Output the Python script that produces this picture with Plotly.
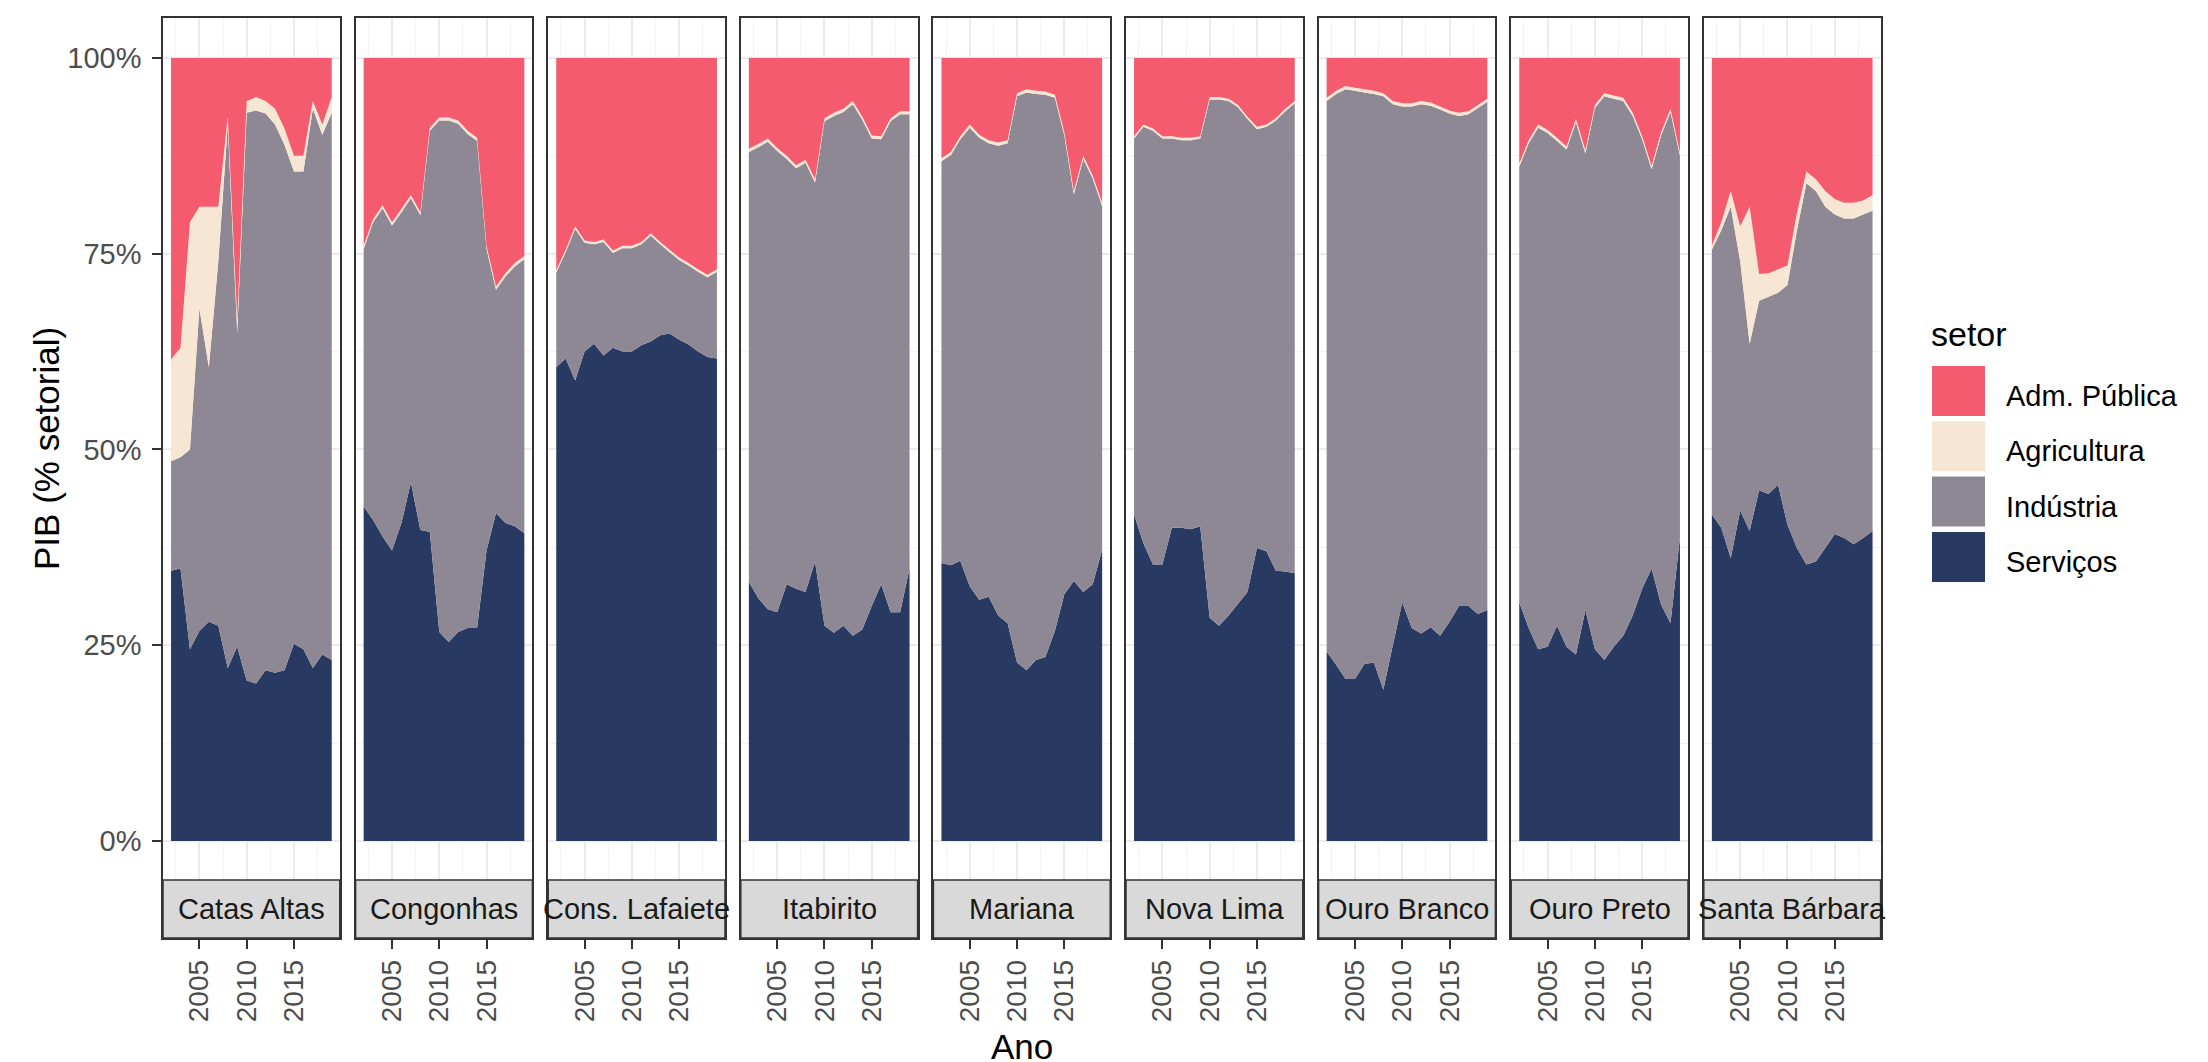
import plotly.graph_objects as go

#%% data - PIB setorial share (%) per municipality, 2002-2019
anos = list(range(2002, 2020))
municipios = ["Catas Altas", "Congonhas", "Cons. Lafaiete", "Itabirito", "Mariana",
              "Nova Lima", "Ouro Branco", "Ouro Preto", "Santa Bárbara"]
setores = ["Serviços", "Indústria", "Agricultura", "Adm. Pública"]
cores = {"Adm. Pública": "#F45B6E", "Agricultura": "#F7E6D3",
         "Indústria": "#8E8895", "Serviços": "#283A62"}

catas_serv = [34.5, 34.8, 24.5, 26.8, 28, 27.5, 22.1, 24.8, 20.5, 20.1, 21.8, 21.5, 21.8, 25.2, 24.5, 22.1, 23.8, 23.1]
catas_ind = [14.0, 14.2, 25.5, 41.2, 32.5, 46.5, 69.4, 40.2, 72.5, 73.2, 71.1, 70.0, 67.1, 60.3, 61.0, 71.4, 66.4, 69.9]
catas_agri = [13, 14, 29, 13, 20.5, 7, 1, 1.5, 1.5, 1.7, 1.6, 2, 2.1, 2, 2, 1, 1.3, 2]
catas_adm = [38.5, 37, 21, 19, 19, 19, 7.5, 33.5, 5.5, 5, 5.5, 6.5, 9, 12.5, 12.5, 5.5, 8.5, 5]

cong_serv = [42.7, 41, 38.9, 37.1, 40.6, 45.8, 39.7, 39.5, 26.7, 25.4, 26.7, 27.2, 27.2, 37.1, 41.9, 40.6, 40.2, 39.3]
cong_ind = [32.9, 38, 41.9, 41.5, 39.7, 36.3, 40.2, 51.2, 65.3, 66.6, 64.9, 63.1, 62.2, 38.5, 28.5, 31.5, 33.2, 35]
cong_agri = [0.4, 0.4, 0.4, 0.4, 0.4, 0.4, 0.4, 0.4, 0.4, 0.4, 0.4, 0.4, 0.4, 0.4, 0.4, 0.4, 0.4, 0.4]
cong_adm = [24, 20.6, 18.8, 21, 19.3, 17.5, 19.7, 8.9, 7.6, 7.6, 8, 9.3, 10.2, 24, 29.2, 27.5, 26.2, 25.3]

laf_serv = [60.5, 61.6, 58.8, 62.5, 63.5, 62, 63, 62.5, 62.5, 63.3, 63.8, 64.6, 64.8, 64, 63.4, 62.5, 61.8, 61.6]
laf_ind = [12.1, 13.6, 19.4, 13.9, 12.7, 14.5, 12.1, 13.2, 13.2, 12.9, 13.5, 11.6, 10.4, 10.2, 10.1, 10.2, 10.2, 11.1]
laf_agri = [0.3, 0.3, 0.3, 0.3, 0.3, 0.3, 0.3, 0.3, 0.3, 0.3, 0.3, 0.3, 0.3, 0.3, 0.3, 0.3, 0.3, 0.3]
laf_adm = [27.1, 24.5, 21.5, 23.3, 23.5, 23.2, 24.6, 24, 24, 23.5, 22.4, 23.5, 24.5, 25.5, 26.2, 27, 27.7, 27]

itab_serv = [33.1, 31, 29.6, 29.2, 32.8, 32.2, 31.8, 35.7, 27.5, 26.6, 27.5, 26.2, 27, 30, 32.8, 29.2, 29.2, 34.8]
itab_ind = [54.9, 57.6, 59.7, 58.9, 54.3, 53.7, 54.8, 48.4, 64.4, 66, 65.6, 67.9, 65.1, 59.7, 56.8, 62.7, 63.6, 58]
itab_agri = [0.4, 0.4, 0.4, 0.4, 0.4, 0.4, 0.4, 0.4, 0.4, 0.4, 0.4, 0.4, 0.4, 0.4, 0.4, 0.4, 0.4, 0.4]
itab_adm = [11.6, 11, 10.3, 11.5, 12.5, 13.7, 13, 15.5, 7.7, 7, 6.5, 5.5, 7.5, 9.9, 10, 7.7, 6.8, 6.8]

mar_serv = [35.5, 35.2, 35.8, 32.5, 30.8, 31.2, 28.8, 27.8, 22.8, 21.8, 23.1, 23.5, 26.8, 31.5, 33.2, 31.8, 32.8, 37.2]
mar_ind = [51.3, 52.4, 53.8, 58.6, 59, 57.9, 60, 61.3, 72.3, 73.8, 72.3, 71.8, 68.1, 58.6, 49.4, 55.3, 51.8, 43.9]
mar_agri = [0.4, 0.4, 0.4, 0.4, 0.4, 0.4, 0.4, 0.4, 0.4, 0.4, 0.4, 0.4, 0.4, 0.4, 0.4, 0.4, 0.4, 0.4]
mar_adm = [12.8, 12, 10, 8.5, 9.8, 10.5, 10.8, 10.5, 4.5, 4, 4.2, 4.3, 4.7, 9.5, 17, 12.5, 15, 18.5]

nova_serv = [41.7, 38, 35.3, 35.3, 40, 40, 39.8, 40.2, 28.5, 27.5, 28.8, 30.3, 31.8, 37.4, 37, 34.5, 34.4, 34.2]
nova_ind = [48.0, 53.2, 55.4, 54.4, 49.7, 49.5, 49.7, 49.5, 66.2, 67.2, 65.7, 63.4, 60.4, 53.5, 54.2, 57.5, 58.8, 60]
nova_agri = [0.3, 0.3, 0.3, 0.3, 0.3, 0.3, 0.3, 0.3, 0.3, 0.3, 0.3, 0.3, 0.3, 0.3, 0.3, 0.3, 0.3, 0.3]
nova_adm = [10, 8.5, 9, 10, 10, 10.2, 10.2, 10, 5, 5, 5.2, 6, 7.5, 8.8, 8.5, 7.7, 6.5, 5.5]

obranco_serv = [24.2, 22.5, 20.7, 20.7, 22.6, 22.8, 19.3, 25, 30.5, 27.2, 26.5, 27.3, 26.2, 28, 30, 30, 29, 29.5]
obranco_ind = [70.3, 72.9, 75.3, 75.1, 73, 72.6, 75.8, 69.1, 63.3, 66.6, 67.6, 66.6, 67.2, 64.9, 62.6, 62.8, 64.6, 64.9]
obranco_agri = [0.4, 0.4, 0.4, 0.4, 0.4, 0.4, 0.4, 0.4, 0.4, 0.4, 0.4, 0.4, 0.4, 0.4, 0.4, 0.4, 0.4, 0.4]
obranco_adm = [5.1, 4.2, 3.6, 3.8, 4, 4.2, 4.5, 5.5, 5.8, 5.8, 5.5, 5.7, 6.2, 6.7, 7, 6.8, 6, 5.2]

opreto_serv = [30.5, 27.2, 24.5, 24.8, 27.5, 24.8, 23.8, 29.5, 24.5, 23.1, 24.8, 26.2, 28.8, 32.2, 34.8, 30.2, 27.8, 38.8]
opreto_ind = [55.6, 61.9, 66.6, 65.6, 61.9, 63.5, 68, 58.3, 69.1, 72, 70, 68.3, 63.8, 57.4, 51, 59.9, 65.3, 48.7]
opreto_agri = [0.4, 0.4, 0.4, 0.4, 0.4, 0.4, 0.4, 0.4, 0.4, 0.4, 0.4, 0.4, 0.4, 0.4, 0.4, 0.4, 0.4, 0.4]
opreto_adm = [13.5, 10.5, 8.5, 9.2, 10.2, 11.3, 7.8, 11.8, 6, 4.5, 4.8, 5.1, 7, 10, 13.8, 9.5, 6.5, 12.1]

sbarb_serv = [41.7, 40, 36.1, 42.2, 39.6, 44.8, 44.3, 45.5, 40.4, 37.4, 35.3, 35.7, 37.4, 39.2, 38.7, 37.9, 38.7, 39.6]
sbarb_ind = [33.8, 38, 44.9, 31.8, 23.9, 24.2, 25.2, 24.5, 30.6, 40.6, 48.7, 47.3, 43.6, 40.8, 40.8, 41.6, 41.3, 40.9]
sbarb_agri = [0.5, 1, 2, 4.5, 17.5, 3.4, 3, 3, 2.5, 2.2, 1.5, 1.5, 2, 2, 2, 2, 1.8, 2]
sbarb_adm = [24, 21, 17, 21.5, 19, 27.6, 27.5, 27, 26.5, 19.8, 14.5, 15.5, 17, 18, 18.5, 18.5, 18.2, 17.5]

dados = [
    (catas_serv, catas_ind, catas_agri, catas_adm),
    (cong_serv, cong_ind, cong_agri, cong_adm),
    (laf_serv, laf_ind, laf_agri, laf_adm),
    (itab_serv, itab_ind, itab_agri, itab_adm),
    (mar_serv, mar_ind, mar_agri, mar_adm),
    (nova_serv, nova_ind, nova_agri, nova_adm),
    (obranco_serv, obranco_ind, obranco_agri, obranco_adm),
    (opreto_serv, opreto_ind, opreto_agri, opreto_adm),
    (sbarb_serv, sbarb_ind, sbarb_agri, sbarb_adm),
]

#%% layout geometry (pixels of the 2208x1062 page)
W, H = 2208, 1062
FONT = "Liberation Sans, Arial, sans-serif"
p_left0, p_step, p_w = 155, 192.6, 176.8
p_top, strip_top, strip_bot = 10, 872, 930

def px(x):
    return x / W

def py(y):
    return 1 - y / H

fig = go.Figure()
layout = {}
shapes = []
annotations = []

for k, (muni, vals) in enumerate(zip(municipios, dados)):
    n = k + 1
    xa = "x" if n == 1 else f"x{n}"
    ya = "y" if n == 1 else f"y{n}"
    for setor, v in zip(setores, vals):
        fig.add_trace(go.Scatter(
            x=anos, y=v, xaxis=xa, yaxis=ya, mode="none",
            stackgroup=f"g{n}", groupnorm="percent" if setor == "Serviços" else None,
            fillcolor=cores[setor], showlegend=False,
            hovertemplate=f"{muni}<br>{setor}<br>%{{x}}: %{{y:.1f}}%<extra></extra>"))

    left = p_left0 + p_step * k
    right = left + p_w
    layout[f"xaxis{'' if n == 1 else n}"] = dict(
        domain=[px(left), px(right)], anchor=ya, range=[2001.15, 2019.85],
        tickvals=[2005, 2010, 2015], ticktext=["2005", "2010", "2015"],
        tickangle=-90, ticks="outside", ticklen=9, tickwidth=1.5, tickcolor="#333333",
        tickfont=dict(size=28, color="#4D4D4D", family=FONT),
        showgrid=True, gridcolor="#EBEBEB", gridwidth=1.5, zeroline=False,
        minor=dict(tick0=2002.5, dtick=5, showgrid=True, gridcolor="#F3F3F3", gridwidth=0.8),
        showline=True, mirror=True, linecolor="#333333", linewidth=1.5)
    layout[f"yaxis{'' if n == 1 else n}"] = dict(
        domain=[py(strip_bot), py(p_top)], anchor=xa, range=[-12.39, 105.1],
        tickvals=[0, 25, 50, 75, 100], ticktext=["0%", "25%", "50%", "75%", "100%"],
        showticklabels=(n == 1), ticks="outside" if n == 1 else "",
        ticklen=9, tickwidth=1.5, tickcolor="#333333", ticklabelstandoff=5,
        tickfont=dict(size=29, color="#4D4D4D", family=FONT),
        showgrid=True, gridcolor="#EBEBEB", gridwidth=1.5, zeroline=False,
        minor=dict(tick0=12.5, dtick=25, showgrid=True, gridcolor="#F3F3F3", gridwidth=0.8),
        showline=True, mirror=True, linecolor="#333333", linewidth=1.5)

    # strip (facet label at the bottom)
    shapes.append(dict(type="rect", xref="paper", yref="paper", layer="above",
                       x0=px(left), x1=px(right), y0=py(strip_bot), y1=py(strip_top),
                       fillcolor="#D9D9D9", line=dict(color="#333333", width=1.5)))
    annotations.append(dict(text=muni, xref="paper", yref="paper", showarrow=False,
                            x=px((left + right) / 2), y=py((strip_top + strip_bot) / 2),
                            xanchor="center", yanchor="middle",
                            font=dict(size=29, color="#1A1A1A", family=FONT)))

# axis titles
annotations.append(dict(text="Ano", xref="paper", yref="paper", showarrow=False,
                        x=px((p_left0 + p_left0 + 8 * p_step + p_w) / 2), y=py(1038),
                        xanchor="center", yanchor="middle",
                        font=dict(size=35, color="black", family=FONT)))
annotations.append(dict(text="PIB (% setorial)", xref="paper", yref="paper", showarrow=False,
                        x=px(38), y=py((p_top + strip_top) / 2), textangle=-90,
                        xanchor="center", yanchor="middle",
                        font=dict(size=35, color="black", family=FONT)))

# legend drawn by hand (large ggplot-style keys)
annotations.append(dict(text="setor", xref="paper", yref="paper", showarrow=False,
                        x=px(1921), y=py(326), xanchor="left", yanchor="middle",
                        font=dict(size=34, color="black", family=FONT)))
for i, setor in enumerate(["Adm. Pública", "Agricultura", "Indústria", "Serviços"]):
    top = 358 + 55.3 * i
    shapes.append(dict(type="rect", xref="paper", yref="paper",
                       x0=px(1924), x1=px(1977), y0=py(top + 50), y1=py(top),
                       fillcolor=cores[setor], line=dict(width=0)))
    annotations.append(dict(text=setor, xref="paper", yref="paper", showarrow=False,
                            x=px(1996), y=py(top + 30), xanchor="left", yanchor="middle",
                            font=dict(size=29, color="black", family=FONT)))

fig.update_layout(
    width=W, height=H, margin=dict(l=0, r=0, t=0, b=0),
    paper_bgcolor="white", plot_bgcolor="white",
    font=dict(family=FONT), showlegend=False,
    shapes=shapes, annotations=annotations, **layout)

fig.write_html("out.html")
